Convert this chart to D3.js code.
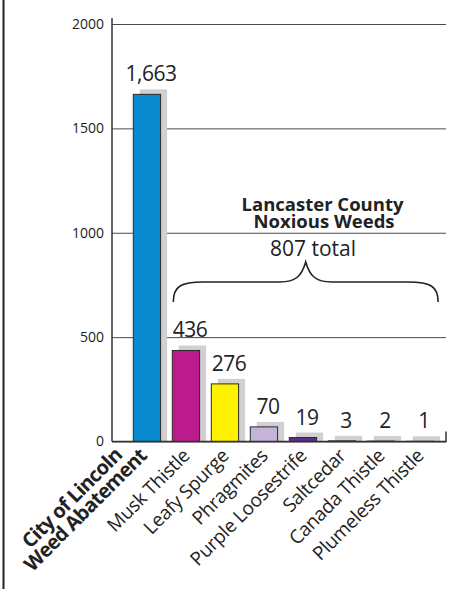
<!DOCTYPE html>
<html>
<head>
<meta charset="utf-8">
<script src="https://cdn.jsdelivr.net/npm/d3@7"></script>
<style>
  html, body { margin: 0; padding: 0; background: #fff; }
  svg { display: block; font-family: "Open Sans", "DejaVu Sans", sans-serif; }
</style>
</head>
<body>
<div id="chart"></div>
<script>
// Data
var categories = ["City of Lincoln Weed Abatement", "Musk Thistle", "Leafy Spurge", "Phragmites",
                  "Purple Loosestrife", "Saltcedar", "Canada Thistle", "Plumeless Thistle"];
var values = [1663, 436, 276, 70, 19, 3, 2, 1];
var valueLabels = ["1,663", "436", "276", "70", "19", "3", "2", "1"];
var barColors = ["#0a8bd0", "#bb1b8c", "#fff200", "#c5b4da", "#5d2c8e", "#555555", "#555555", "#555555"];
var yTicks = [0, 500, 1000, 1500, 2000];

var width = 449;
var height = 589;

var svg = d3.select("#chart")
    .append("svg")
    .attr("width", width)
    .attr("height", height);

// Left page border
svg.append("line")
    .attr("x1", 3.5).attr("x2", 3.5)
    .attr("y1", 0).attr("y2", height)
    .attr("stroke", "#222")
    .attr("stroke-width", 2);

// Scales
var x = d3.scaleBand()
    .domain(categories)
    .range([127.45, 439.45])
    .paddingInner(0.3)
    .paddingOuter(0.15);

var y = d3.scaleLinear()
    .domain([0, 2000])
    .range([441.5, 24]);

var axisX = 112;
var plotRight = 446;

// Gridlines and tick labels
var yAxis = svg.append("g")
    .attr("transform", "translate(" + axisX + ",0)")
    .call(d3.axisLeft(y).tickValues(yTicks).tickFormat(d3.format("d"))
        .tickSize(-(plotRight - axisX)).tickPadding(8));
yAxis.select(".domain").remove();
yAxis.selectAll(".tick line").attr("stroke", "#4a4a4a").attr("stroke-width", 1);
yAxis.selectAll(".tick text")
    .attr("fill", "#222")
    .style("font-size", "14px")
    .style("font-family", "'Open Sans', sans-serif");

// Shadows behind bars
var shadowDx = 6.5, shadowDy = 5;
svg.selectAll("rect.shadow")
    .data(values)
    .enter().append("rect")
    .attr("class", "shadow")
    .attr("x", (d, i) => x(categories[i]) + shadowDx)
    .attr("y", d => y(d) - shadowDy)
    .attr("width", x.bandwidth())
    .attr("height", d => y(0) - y(d) + shadowDy)
    .attr("fill", "#d0d0d0");

// Bars
svg.selectAll("rect.bar")
    .data(values)
    .enter().append("rect")
    .attr("class", "bar")
    .attr("x", (d, i) => x(categories[i]))
    .attr("y", d => y(d))
    .attr("width", x.bandwidth())
    .attr("height", d => y(0) - y(d))
    .attr("fill", (d, i) => barColors[i])
    .attr("stroke", "#2a2a2a")
    .attr("stroke-width", 1);

// Axis lines
svg.append("line")
    .attr("x1", axisX).attr("x2", axisX)
    .attr("y1", 18).attr("y2", y(0))
    .attr("stroke", "#333").attr("stroke-width", 1.5);
svg.append("path")
    .attr("d", "M" + axisX + "," + y(0) + "H" + plotRight + "V" + (y(0) - 10))
    .attr("fill", "none")
    .attr("stroke", "#333").attr("stroke-width", 1.5);

// Value labels
svg.selectAll("text.value")
    .data(values)
    .enter().append("text")
    .attr("class", "value")
    .attr("x", (d, i) => x(categories[i]) + x.bandwidth() / 2 + 4)
    .attr("y", d => Math.min(y(d) - 13, 428))
    .attr("text-anchor", "middle")
    .attr("fill", "#222")
    .style("font-size", "21px")
    .style("letter-spacing", "-0.5px")
    .text((d, i) => valueLabels[i]);

// Category labels, rotated
var labelY = 457;
categories.forEach(function(c, i) {
    var cx = x(c) + x.bandwidth() / 2 + (i === 0 ? 1 : 5);
    var g = svg.append("g")
        .attr("transform", "translate(" + cx + "," + labelY + ") rotate(-45)");
    if (i === 0) {
        // two-line bold label as one text block
        var t = g.append("text")
            .attr("text-anchor", "end")
            .attr("fill", "#222")
            .style("font-size", "20px").style("font-weight", "bold").style("letter-spacing", "-0.7px");
        t.append("tspan").attr("x", -17).attr("y", -18).text("City of Lincoln");
        t.append("tspan").attr("x", 0).attr("y", 0).text("Weed Abatement");
    } else {
        g.append("text")
            .attr("text-anchor", "end")
            .attr("fill", "#222")
            .style("font-size", "19px")
            .style("letter-spacing", "-0.3px")
            .text(c);
    }
});

// Bracket over the county weeds
var bx0 = x(categories[1]) + 1;
var bx1 = x(categories[7]) + x.bandwidth() + shadowDx - 2;
var bm = (bx0 + bx1) / 2;
var bEnd = 302, bTop = 282, bPeak = 262;
svg.append("path")
    .attr("d", "M" + bx0 + "," + bEnd +
        "C" + bx0 + "," + (bTop + 4) + " " + (bx0 + 8) + "," + bTop + " " + (bx0 + 30) + "," + bTop +
        "L" + (bm - 26) + "," + bTop +
        "C" + (bm - 10) + "," + bTop + " " + (bm - 4) + "," + (bTop - 6) + " " + bm + "," + bPeak +
        "C" + (bm + 4) + "," + (bTop - 6) + " " + (bm + 10) + "," + bTop + " " + (bm + 26) + "," + bTop +
        "L" + (bx1 - 30) + "," + bTop +
        "C" + (bx1 - 8) + "," + bTop + " " + bx1 + "," + (bTop + 4) + " " + bx1 + "," + bEnd)
    .attr("fill", "none")
    .attr("stroke", "#222")
    .attr("stroke-width", 1.6);

// Annotation: bold two-line title and total
var note = svg.append("text")
    .attr("text-anchor", "middle")
    .attr("fill", "#222")
    .style("font-size", "18.5px").style("font-weight", "bold");
note.append("tspan").attr("x", 322.5).attr("y", 211).text("Lancaster County");
note.append("tspan").attr("x", 324).attr("y", 227.5).text("Noxious Weeds");
svg.append("text")
    .attr("x", 313).attr("y", 256)
    .attr("text-anchor", "middle")
    .attr("fill", "#222")
    .style("font-size", "21px")
    .text("807 total");
</script>
</body>
</html>
